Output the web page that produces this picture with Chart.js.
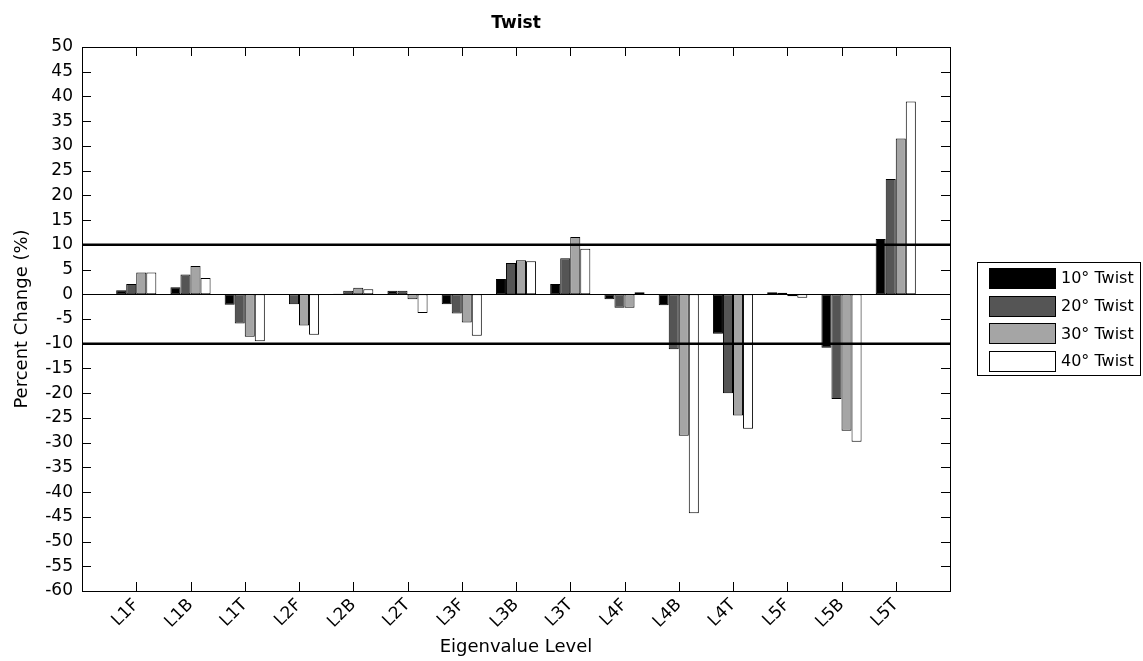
<!DOCTYPE html>
<html>
<head>
<meta charset="utf-8">
<script src="https://cdn.jsdelivr.net/npm/chart.js@4/dist/chart.umd.min.js"></script>
<style>
  html, body { margin: 0; padding: 0; background: #fff; }
  #wrap { width: 1143px; height: 661px; }
</style>
</head>
<body>
<div id="wrap"><canvas id="chart" width="1143" height="661"></canvas></div>
<script>
const categories = ["L1F", "L1B", "L1T", "L2F", "L2B", "L2T", "L3F", "L3B", "L3T", "L4F", "L4B", "L4T", "L5F", "L5B", "L5T"];
const twist10 = [0.8, 1.4, -2.1, -0.1, 0.1, 0.7, -2.0, 3.1, 2.1, -1.0, -2.2, -8.0, 0.4, -10.8, 11.2];
const twist20 = [2.1, 4.0, -5.9, -2.0, 0.7, 0.7, -3.9, 6.3, 7.3, -2.7, -11.1, -20.0, 0.3, -21.2, 23.3];
const twist30 = [4.4, 5.7, -8.6, -6.3, 1.3, -1.0, -5.7, 6.9, 11.6, -2.7, -28.6, -24.5, -0.4, -27.6, 31.5];
const twist40 = [4.4, 3.3, -9.5, -8.2, 1.0, -3.8, -8.4, 6.7, 9.2, 0.4, -44.3, -27.2, -0.7, -29.8, 39.0];
const seriesNames = ["10° Twist", "20° Twist", "30° Twist", "40° Twist"];
const seriesColors = ["#000000", "#555555", "#a5a5a5", "#ffffff"];
const limitLines = [10, -10];

const FONT = "'DejaVu Sans', sans-serif";

// matlab style: one empty slot on each side of the bars
const labels = ["", ...categories, ""];
const pad = (arr) => [null, ...arr, null];

const datasets = [twist10, twist20, twist30, twist40].map((vals, i) => ({
  label: seriesNames[i],
  data: pad(vals),
  backgroundColor: seriesColors[i],
  borderColor: "#000",
  borderWidth: 1,
  borderSkipped: false,
  categoryPercentage: 0.74,
  barPercentage: 1.0,
}));

const frame = {
  id: "frame",
  afterDatasetsDraw(chart) {
    const { ctx, chartArea: a, scales } = chart;
    const x = scales.x, y = scales.y;
    const tl = 9;
    ctx.save();
    ctx.strokeStyle = "#000";

    // zero line
    ctx.lineWidth = 1;
    const y0 = Math.round(y.getPixelForValue(0)) + 0.5;
    ctx.beginPath();
    ctx.moveTo(a.left, y0);
    ctx.lineTo(a.right, y0);
    ctx.stroke();

    // +/-10 limits
    ctx.lineWidth = 2.5;
    limitLines.forEach((v) => {
      const py = y.getPixelForValue(v);
      ctx.beginPath();
      ctx.moveTo(a.left, py);
      ctx.lineTo(a.right, py);
      ctx.stroke();
    });

    // box and inward ticks
    ctx.lineWidth = 1;
    ctx.strokeRect(Math.round(a.left) + 0.5, Math.round(a.top) + 0.5, Math.round(a.right - a.left), Math.round(a.bottom - a.top));
    ctx.beginPath();
    y.ticks.forEach((t, i) => {
      const py = Math.round(y.getPixelForTick(i)) + 0.5;
      ctx.moveTo(a.left, py);
      ctx.lineTo(a.left + tl, py);
      ctx.moveTo(a.right, py);
      ctx.lineTo(a.right - tl, py);
    });
    x.ticks.forEach((t, i) => {
      const px = Math.round(x.getPixelForTick(i)) + 0.5;
      ctx.moveTo(px, a.bottom);
      ctx.lineTo(px, a.bottom - tl);
      ctx.moveTo(px, a.top);
      ctx.lineTo(px, a.top + tl);
    });
    ctx.stroke();
    ctx.restore();
  },
  afterDraw(chart) {
    const { ctx, chartArea: a } = chart;
    ctx.save();
    ctx.fillStyle = "#000";
    ctx.textAlign = "center";
    ctx.textBaseline = "middle";

    // title
    ctx.font = "bold 17px " + FONT;
    ctx.fillText("Twist", (a.left + a.right) / 2, 24);

    // axis titles
    ctx.font = "18px " + FONT;
    ctx.fillText("Eigenvalue Level", (a.left + a.right) / 2, 647);
    ctx.save();
    ctx.translate(22, (a.top + a.bottom) / 2);
    ctx.rotate(-Math.PI / 2);
    ctx.fillText("Percent Change (%)", 0, 0);
    ctx.restore();

    // legend
    const lx = 977, ly = 262, lw = 163, rowH = 27.7;
    const n = chart.data.datasets.length;
    const lh = Math.round(rowH * n + 2);
    ctx.fillStyle = "#fff";
    ctx.fillRect(lx, ly, lw, lh);
    ctx.strokeStyle = "#000";
    ctx.lineWidth = 1;
    ctx.strokeRect(lx + 0.5, ly + 0.5, lw, lh);
    ctx.font = "16px " + FONT;
    ctx.textAlign = "left";
    chart.data.datasets.forEach((ds, i) => {
      const cy = ly + 16 + i * rowH;
      ctx.fillStyle = ds.backgroundColor;
      ctx.fillRect(989, Math.round(cy - 10), 66, 20);
      ctx.strokeRect(989.5, Math.round(cy - 10) + 0.5, 66, 20);
      ctx.fillStyle = "#000";
      ctx.fillText(ds.label, 1061, cy + 1);
    });
    ctx.restore();
  },
};

new Chart(document.getElementById("chart"), {
  type: "bar",
  data: { labels, datasets },
  options: {
    responsive: false,
    animation: false,
    layout: { padding: { top: 47, right: 193, left: 0, bottom: 0 } },
    plugins: {
      legend: { display: false },
      title: { display: false },
      tooltip: { enabled: false },
    },
    scales: {
      x: {
        offset: false,
        grid: { display: false, drawTicks: false },
        border: { display: false },
        ticks: {
          autoSkip: false,
          minRotation: 45,
          maxRotation: 45,
          padding: 4,
          color: "#000",
          font: { family: FONT, size: 17 },
        },
        afterFit: (s) => { s.height = 70; },
      },
      y: {
        min: -60,
        max: 50,
        grid: { display: false, drawTicks: false },
        border: { display: false },
        ticks: {
          stepSize: 5,
          padding: 9,
          color: "#000",
          font: { family: FONT, size: 17 },
        },
        afterFit: (s) => { s.width = 82; },
      },
    },
  },
  plugins: [frame],
});
</script>
</body>
</html>
